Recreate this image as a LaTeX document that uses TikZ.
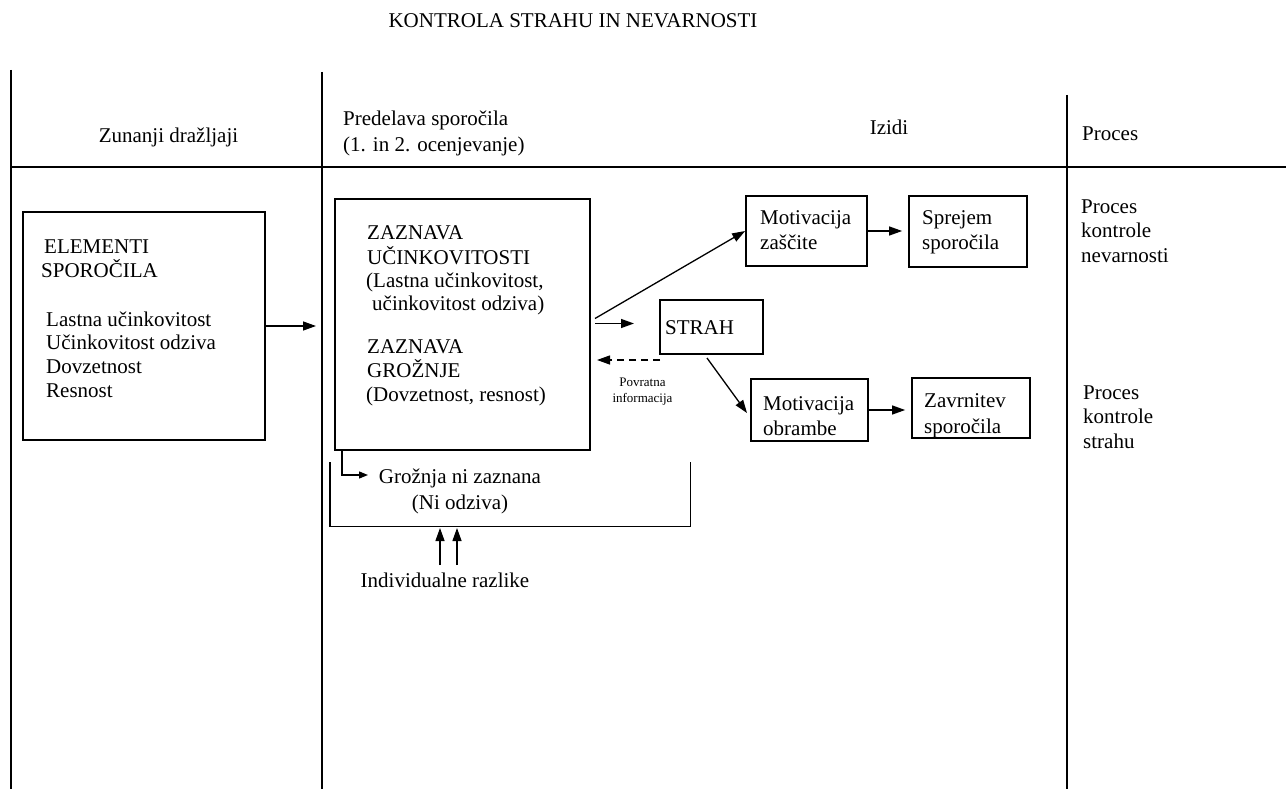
\documentclass[tikz,border=0pt]{standalone}
\usepackage{fontspec}
\setmainfont{Liberation Serif}
\usetikzlibrary{arrows.meta}
\begin{document}
\begin{tikzpicture}[x=1pt,y=-1pt,
  txt/.style={inner sep=0pt,font=\fontsize{21}{24}\selectfont},
  smalltxt/.style={inner sep=0pt,font=\fontsize{13}{16}\selectfont},
  box/.style={draw,line width=1.7pt,inner sep=0pt},
  rule/.style={line width=1.9pt},
  arr/.style={line width=1.3pt,-{Triangle[length=13pt,width=9pt]}},
  sarr/.style={line width=1.3pt,-{Triangle[length=9pt,width=7pt]}}]
\useasboundingbox (0,0) rectangle (1286,789);
% title
\node[txt,anchor=base] (title) at (573,28) {KONTROLA STRAHU IN NEVARNOSTI};
% table rules
\coordinate (vl1t) at (10.7,70);  \coordinate (vl1b) at (10.7,789);
\coordinate (vl2t) at (322,72);   \coordinate (vl2b) at (322,789);
\coordinate (vl3t) at (1067,95);  \coordinate (vl3b) at (1067,789);
\coordinate (hl1) at (10.7,167);  \coordinate (hl2) at (1286,167);
\draw[rule] (vl1t) -- (vl1b);
\draw[rule] (vl2t) -- (vl2b);
\draw[rule] (vl3t) -- (vl3b);
\draw[line width=2.3pt] (hl1) -- (hl2);
% headers
\node[txt,anchor=base] (h1) at (168.5,143) {Zunanji dražljaji};
\node[txt,anchor=base west] (h2a) at (343,126) {Predelava sporočila};
\node[txt,anchor=base west] (h2b) at (343,152) {(1. in 2. ocenjevanje)};
\node[txt,anchor=base] (h3) at (889,135) {Izidi};
\node[txt,anchor=base west] (h4) at (1082,141) {Proces};
% ELEMENTI box
\node[box,minimum width=242pt,minimum height=228pt] (elem) at (144,326) {};
\node[txt,anchor=base west] (e1) at (44,253) {ELEMENTI};
\node[txt,anchor=base west] (e2) at (41,277) {SPOROČILA};
\node[txt,anchor=base west] (e3) at (46,326) {Lastna učinkovitost};
\node[txt,anchor=base west] (e4) at (46,349.5) {Učinkovitost odziva};
\node[txt,anchor=base west] (e5) at (46,373) {Dovzetnost};
\node[txt,anchor=base west] (e6) at (46,397) {Resnost};
% ZAZNAVA box
\node[box,minimum width=255pt,minimum height=251pt] (zaz) at (462.5,324.5) {};
\node[txt,anchor=base west] (z1) at (367,240) {ZAZNAVA};
\node[txt,anchor=base west] (z2) at (367,264) {UČINKOVITOSTI};
\node[txt,anchor=base west] (z3) at (366,287) {(Lastna učinkovitost,};
\node[txt,anchor=base west] (z4) at (372,310) {učinkovitost odziva)};
\node[txt,anchor=base west] (z5) at (367,353) {ZAZNAVA};
\node[txt,anchor=base west] (z6) at (367,377) {GROŽNJE};
\node[txt,anchor=base west] (z7) at (366,401) {(Dovzetnost, resnost)};
% STRAH box
\node[box,minimum width=103pt,minimum height=54pt] (strah) at (711.5,327) {};
\node[txt,anchor=base west] (st) at (665,334) {STRAH};
% Motivacija zascite
\node[box,minimum width=121pt,minimum height=70pt] (mz) at (806.5,231) {};
\node[txt,anchor=base west] (mz1) at (760,224) {Motivacija};
\node[txt,anchor=base west] (mz2) at (760,249) {zaščite};
% Sprejem
\node[box,minimum width=118pt,minimum height=71pt] (sp) at (968,231.5) {};
\node[txt,anchor=base west] (sp1) at (922,224) {Sprejem};
\node[txt,anchor=base west] (sp2) at (922,249) {sporočila};
% Motivacija obrambe
\node[box,minimum width=117pt,minimum height=62pt] (mo) at (809.5,410) {};
\node[txt,anchor=base west] (mo1) at (763,410) {Motivacija};
\node[txt,anchor=base west] (mo2) at (763,435) {obrambe};
% Zavrnitev
\node[box,minimum width=118pt,minimum height=60pt] (zv) at (971,408) {};
\node[txt,anchor=base west] (zv1) at (924,407) {Zavrnitev};
\node[txt,anchor=base west] (zv2) at (924,433) {sporočila};
% Proces column
\node[txt,anchor=base west] (p1) at (1081,213) {Proces};
\node[txt,anchor=base west] (p2) at (1081,237.5) {kontrole};
\node[txt,anchor=base west] (p3) at (1081,262) {nevarnosti};
\node[txt,anchor=base west] (p4) at (1083,399) {Proces};
\node[txt,anchor=base west] (p5) at (1083,423.5) {kontrole};
\node[txt,anchor=base west] (p6) at (1083,448) {strahu};
% feedback label
\node[smalltxt,anchor=base] (pv1) at (642.5,386) {Povratna};
\node[smalltxt,anchor=base] (pv2) at (642.5,402) {informacija};
% no-threat texts
\node[txt,anchor=base] (g1) at (460,483) {Grožnja ni zaznana};
\node[txt,anchor=base] (g2) at (460,509) {(Ni odziva)};
\node[txt,anchor=base] (ind) at (445,587) {Individualne razlike};
% connectors
\coordinate (a1e) at (316,326);
\draw[arr] (elem.east) -- (a1e);
\coordinate (zd) at (595,318.5);
\draw[arr] (zd) -- (mz.west);
\coordinate (zh) at (595,323.5);
\coordinate (zhe) at (634,323.5);
\draw[arr] (zh) -- (zhe);
\coordinate (fbs) at (660,360);
\coordinate (fbe) at (597,360);
\draw[arr,dash pattern=on 7pt off 5pt] (fbs) -- (fbe);
\coordinate (sds) at (707,358);
\coordinate (sde) at (747,413);
\draw[arr] (sds) -- (sde);
\draw[arr,shorten >=6pt] (mz.east) -- (mz.east -| sp.west);
\draw[arr,shorten >=6pt] (mo.east) -- (mo.east -| zv.west);
% elbow arrow from ZAZNAVA box
\coordinate (el1) at (342,450);
\coordinate (el2) at (342,475);
\coordinate (el3) at (368,475);
\draw[sarr] (el1) -- (el2) -- (el3);
% bracket
\coordinate (b1) at (330,462);
\coordinate (b2) at (330,526.5);
\coordinate (b3) at (690.5,526.5);
\coordinate (b4) at (690.5,462);
\draw[line width=1.7pt] (b1) -- (b2) -- (b3) -- (b4);
% individual differences arrows
\coordinate (u1s) at (440,565); \coordinate (u1e) at (440,528);
\coordinate (u2s) at (457,565); \coordinate (u2e) at (457,528);
\draw[arr] (u1s) -- (u1e);
\draw[arr] (u2s) -- (u2e);
\end{tikzpicture}
\end{document}
